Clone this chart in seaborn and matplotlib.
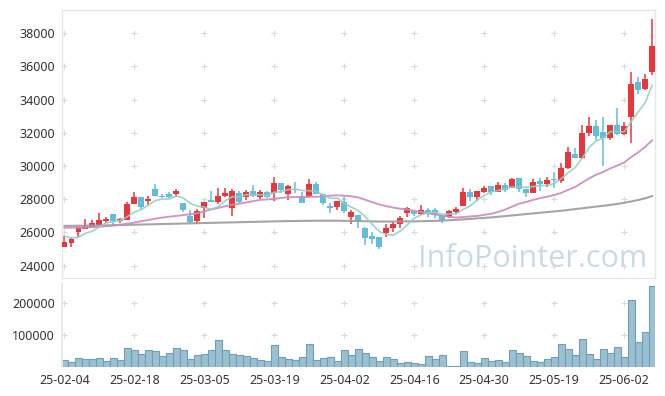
import matplotlib
matplotlib.use("Agg")
import matplotlib.pyplot as plt
import seaborn as sns
import numpy as np
import pandas as pd

# trading days (Korean market, 2025)
dates = [
    "25-02-04", "25-02-05", "25-02-06", "25-02-07", "25-02-10", "25-02-11", "25-02-12", "25-02-13",
    "25-02-14", "25-02-17", "25-02-18", "25-02-19", "25-02-20", "25-02-21", "25-02-24", "25-02-25",
    "25-02-26", "25-02-27", "25-02-28",
    "25-03-04", "25-03-05", "25-03-06", "25-03-07", "25-03-10", "25-03-11", "25-03-12", "25-03-13",
    "25-03-14", "25-03-17", "25-03-18", "25-03-19", "25-03-20", "25-03-21", "25-03-24", "25-03-25",
    "25-03-26", "25-03-27", "25-03-28", "25-03-31",
    "25-04-01", "25-04-02", "25-04-03", "25-04-04", "25-04-07", "25-04-08", "25-04-09", "25-04-10",
    "25-04-11", "25-04-14", "25-04-15", "25-04-16", "25-04-17", "25-04-18", "25-04-21", "25-04-22",
    "25-04-23", "25-04-24", "25-04-25", "25-04-28", "25-04-29", "25-04-30",
    "25-05-02", "25-05-07", "25-05-08", "25-05-09", "25-05-12", "25-05-13", "25-05-14", "25-05-15",
    "25-05-16", "25-05-19", "25-05-20", "25-05-21", "25-05-22", "25-05-23", "25-05-26", "25-05-27",
    "25-05-28", "25-05-29", "25-05-30",
    "25-06-02", "25-06-04", "25-06-05", "25-06-09", "25-06-10",
]

opens = [25150, 25390, 26030, 26230, 26350, 26470, 26710, 27100, 26690, 26750,
         27700, 28150, 27890, 28620, 28200, 28320, 28320, 27800, 26990, 26710,
         27500, 27970, 27850, 28170, 27490, 28380, 28140, 28500, 28160, 28430,
         28360, 28970, 28290, 28620, 28210, 28220, 28920, 28320, 27600, 27550,
         27860, 26950, 27050, 26250, 25810, 25730, 25950, 26270, 26530, 27160,
         27270, 27100, 27370, 27350, 27050, 26950, 27220, 27610, 28440, 28150,
         28420, 28800, 28460, 28860, 28700, 29270, 28620, 28390, 29080, 28920,
         29250, 29120, 29860, 30730, 30470, 32020, 32420, 32040, 31720, 32460,
         31930, 32940, 35090, 34670, 35680]
highs = [25800, 25750, 26380, 26800, 26750, 27170, 26950, 27100, 26900, 27840,
         28420, 28150, 28200, 28930, 28320, 28450, 28620, 27800, 27360, 27420,
         27840, 28480, 28680, 28660, 28620, 28500, 28560, 28860, 28560, 28500,
         29320, 28970, 28860, 29020, 28460, 29210, 29020, 28320, 27800, 27900,
         28160, 27360, 27050, 26350, 26050, 25750, 26500, 26650, 27000, 27550,
         27330, 27660, 27450, 27460, 27050, 27380, 27560, 28680, 28620, 28500,
         28800, 28800, 29060, 29000, 29300, 29270, 28620, 29250, 29280, 29330,
         29660, 30180, 31130, 31070, 32480, 32940, 32780, 32940, 32460, 33490,
         32650, 35650, 35380, 35530, 38840]
lows = [25100, 25100, 25750, 26200, 26250, 26400, 26550, 26390, 26550, 26750,
        27700, 27440, 27650, 28200, 28080, 28080, 28160, 27220, 26600, 26490,
        26900, 27840, 27700, 28160, 27010, 27780, 27960, 28160, 27990, 28050,
        27900, 28360, 27950, 28400, 27800, 28100, 28290, 27680, 27180, 27350,
        27150, 26500, 26250, 25250, 25300, 24980, 25720, 26000, 26300, 26950,
        27020, 27050, 26950, 26900, 26570, 26850, 27120, 27580, 27920, 27920,
        28350, 28250, 28460, 28440, 28700, 28450, 28160, 28380, 28520, 28760,
        28700, 29000, 29850, 30480, 30450, 31810, 31570, 30000, 31550, 31900,
        31850, 31370, 34330, 34600, 35490]
closes = [25450, 25590, 26350, 26390, 26590, 26750, 26830, 26670, 26810, 27700,
          28160, 27530, 28020, 28210, 28150, 28160, 28500, 27360, 26610, 27310,
          27830, 27850, 28200, 28380, 28500, 27850, 28430, 28170, 28430, 28160,
          28970, 28560, 28800, 28530, 27800, 28920, 28290, 27800, 27470, 27870,
          27310, 27210, 26720, 25640, 25610, 25130, 26290, 26530, 26880, 27460,
          27120, 27360, 27130, 27050, 26750, 27290, 27400, 28440, 28160, 28500,
          28690, 28450, 28860, 28560, 29200, 28620, 28380, 29060, 28920, 29170,
          29180, 29880, 30860, 30500, 31980, 32420, 31830, 31680, 32460, 31930,
          32420, 34940, 34580, 35250, 37230]
volumes = [21700, 15500, 27900, 24800, 24800, 27900, 18600, 27900, 21700, 58800,
           52600, 40200, 52600, 49500, 34000, 43300, 58800, 52600, 24800, 37100,
           40200, 52600, 83600, 52600, 40200, 37100, 34000, 27900, 21700, 18600,
           68100, 31000, 24800, 21700, 31000, 71200, 21700, 27900, 31000, 18600,
           52600, 37100, 55700, 43300, 31000, 18600, 31000, 24800, 12400, 15500,
           12400, 9300, 34000, 24800, 37100, 3100, 3100, 49500, 15500, 12400,
           27900, 18600, 21700, 15500, 52600, 43300, 34000, 18600, 15500, 24800,
           31000, 71200, 55700, 37100, 86700, 40200, 24800, 55700, 43300, 61900,
           31000, 207400, 77400, 108400, 250800]

# moving averages as drawn
ma5 = [25790, 25670, 25710, 25950, 26074, 26334, 26582, 26646, 26730, 26952,
       27234, 27374, 27644, 27924, 28014, 28014, 28208, 28076, 27756, 27588,
       27522, 27392, 27560, 27914, 28152, 28156, 28272, 28266, 28276, 28208,
       28432, 28458, 28584, 28604, 28532, 28522, 28468, 28268, 28056, 28070,
       27748, 27532, 27316, 26950, 26498, 26062, 25878, 25840, 26088, 26458,
       26856, 27070, 27190, 27224, 27082, 27116, 27124, 27386, 27608, 27958,
       28238, 28448, 28532, 28612, 28752, 28738, 28724, 28764, 28836, 28830,
       28942, 29242, 29602, 29918, 30480, 31128, 31518, 31682, 32074, 32064,
       32064, 32686, 33266, 33824, 34884]
ma20 = [26290, 26290, 26300, 26300, 26320, 26340, 26380, 26420, 26470, 26530,
        26600, 26680, 26750, 26830, 26900, 26950, 27000, 27050, 27100, 27157,
        27276, 27389, 27482, 27581, 27677, 27732, 27812, 27887, 27968, 27991,
        28031, 28083, 28122, 28138, 28120, 28158, 28148, 28170, 28213, 28241,
        28215, 28183, 28109, 27972, 27827, 27691, 27584, 27502, 27425, 27390,
        27297, 27237, 27154, 27080, 27027, 26946, 26901, 26933, 26968, 26999,
        27068, 27130, 27237, 27383, 27563, 27737, 27842, 27968, 28070, 28156,
        28259, 28385, 28571, 28744, 29005, 29262, 29483, 29645, 29860, 30032,
        30218, 30543, 30829, 31163, 31565]
ma120 = [26400, 26400, 26410, 26410, 26420, 26420, 26430, 26440, 26450, 26460,
         26470, 26480, 26490, 26500, 26510, 26520, 26530, 26540, 26550, 26560,
         26570, 26580, 26590, 26600, 26610, 26620, 26630, 26640, 26650, 26660,
         26670, 26680, 26690, 26690, 26700, 26700, 26710, 26710, 26710, 26710,
         26700, 26700, 26690, 26680, 26670, 26660, 26660, 26660, 26660, 26670,
         26670, 26680, 26690, 26700, 26720, 26740, 26760, 26790, 26820, 26850,
         26880, 26910, 26950, 26990, 27030, 27070, 27110, 27150, 27190, 27230,
         27270, 27310, 27360, 27410, 27460, 27510, 27560, 27610, 27660, 27720,
         27790, 27870, 27960, 28060, 28200]

price_ticks = list(range(24000, 38001, 2000))
volume_ticks = [100000, 200000]
date_tick_idx = list(range(0, 81, 10))

UP = "#e8363c"
DOWN = "#62bdd9"
GRID = "#d9d9d9"
SPINE = "#e6e6e6"

df = pd.DataFrame({"date": dates, "open": opens, "high": highs, "low": lows,
                   "close": closes, "volume": volumes,
                   "ma5": ma5, "ma20": ma20, "ma120": ma120})
df["x"] = np.arange(len(df))

sns.set_theme(style="white")
plt.rcParams["font.family"] = ["Noto Sans", "DejaVu Sans"]

fig = plt.figure(figsize=(6.65, 3.96), dpi=100)
ax = fig.add_axes([0.0928, 0.298, 0.8922, 0.6767])
axv = fig.add_axes([0.0928, 0.0725, 0.8922, 0.2129])

# grid crosses
for yt in price_ticks:
    ax.scatter(date_tick_idx, [yt] * len(date_tick_idx), marker="+", s=22,
               color=GRID, linewidths=0.8, zorder=1)
for yt in volume_ticks:
    axv.scatter(date_tick_idx, [yt] * len(date_tick_idx), marker="+", s=22,
                color=GRID, linewidths=0.8, zorder=1)

# candles
colors = np.where(df["close"] >= df["open"], UP, DOWN)
ax.vlines(df["x"], df["low"], df["high"], colors=colors, lw=1.1, zorder=2)
body = (df["close"] - df["open"]).abs().clip(lower=50)
ax.bar(df["x"], body, bottom=df[["open", "close"]].min(axis=1), width=0.8,
       color=colors, linewidth=0, zorder=3)

# moving averages
for col, c, lw in [("ma120", "#9b9b9b", 1.5), ("ma20", "#cf8ac4", 1.4), ("ma5", "#8fd1c3", 1.2)]:
    sns.lineplot(data=df, x="x", y=col, ax=ax, color=c, lw=lw, alpha=0.9, zorder=4)

ax.set_xlim(-0.37, 84.4)
ax.set_ylim(23260, 39400)
ax.set_yticks(price_ticks)
ax.set_xticks(date_tick_idx)
ax.set_xticklabels([])
ax.set_xlabel("")
ax.set_ylabel("")
ax.tick_params(length=0, labelsize=9, colors="#333333", pad=5)
for s in ax.spines.values():
    s.set_color(SPINE)
    s.set_linewidth(1.0)

# volume
axv.bar(df["x"], df["volume"], width=1.0, color="#9bc0d1", edgecolor="#6f9fb6",
        linewidth=0.8, zorder=2)
axv.set_xlim(-0.37, 84.4)
axv.set_ylim(0, 261000)
axv.set_yticks(volume_ticks)
axv.set_xticks(date_tick_idx)
axv.set_xticklabels([dates[i] for i in date_tick_idx])
axv.tick_params(length=0, labelsize=9, colors="#333333", pad=5)
for name, s in axv.spines.items():
    s.set_visible(name == "left")
    s.set_color(SPINE)

# watermark
fig.text(647 / 665, 1 - 267 / 396, "InfoPointer.com", ha="right", va="baseline",
         fontsize=22, color="#c8dae4", family=["Open Sans", "DejaVu Sans"], zorder=0)

fig.savefig("out.png", dpi=100)
